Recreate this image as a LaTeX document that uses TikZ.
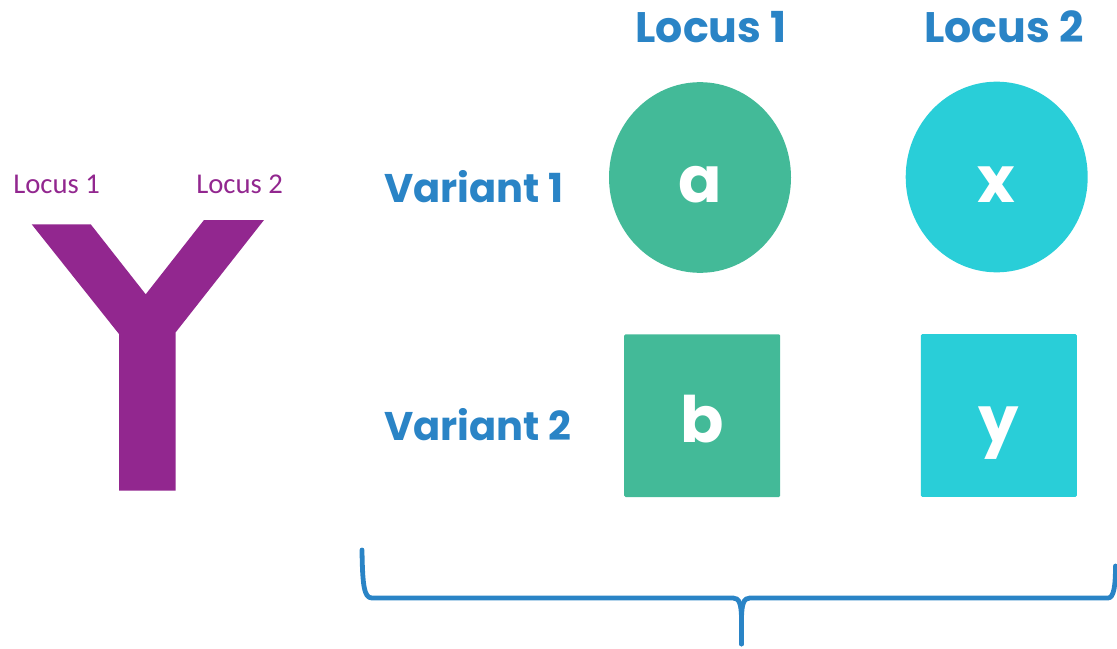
\documentclass[tikz,border=0pt]{standalone}
\usepackage{fontspec}
\setmainfont{Poppins}
\newfontfamily\calibrifont{Carlito}
\usetikzlibrary{shapes.geometric}
\definecolor{ttblue}{HTML}{2A84C6}
\definecolor{ttgreen}{HTML}{43BA98}
\definecolor{ttcyan}{HTML}{29CED8}
\definecolor{ttpurple}{HTML}{92278F}

\begin{document}
\begin{tikzpicture}[x=0.75pt,y=-0.75pt,
  heading/.style={font=\fontsize{32}{38}\selectfont\bfseries, text=ttblue, inner sep=0pt, anchor=base},
  rowlabel/.style={font=\fontsize{30}{36}\selectfont\bfseries, text=ttblue, inner sep=0pt, anchor=base west},
  armlabel/.style={font=\calibrifont\fontsize{21.5}{26}\selectfont, text=ttpurple, inner sep=0pt, anchor=base west},
  allele/.style={font=\fontsize{48}{58}\selectfont\bfseries, text=white, inner sep=0pt, text height=38pt, text depth=0pt},
  circ/.style={allele, ellipse, minimum width=136.5pt, minimum height=143pt},
  sq/.style={allele, rectangle, rounded corners=1pt, minimum width=117pt, minimum height=122pt, text height=40pt},
  brace/.style={draw=ttblue, line width=3.6pt, line cap=round, line join=round},
]
\useasboundingbox (0,0) rectangle (1117,649);

% chromosome
\fill[ttpurple] (31.7,224.3) -- (90.7,224.3) -- (145.7,294.3) -- (204,220) -- (264,220)
  -- (175.7,332.3) -- (175.7,490.7) -- (119,490.7) -- (119,334) -- cycle;
\node[armlabel] (arm1) at (13,193.3) {Locus 1};
\node[armlabel] (arm2) at (196,193.3) {Locus 2};

% column and row headings
\node[heading] (loc1) at (711,43) {Locus 1};
\node[heading] (loc2) at (1004,43) {Locus 2};
\node[rowlabel] (var1) at (384,203) {Variant 1};
\node[rowlabel] (var2) at (384,440) {Variant 2};

% alleles
\node[circ, fill=ttgreen] (a) at (700,177.5) {a};
\node[circ, fill=ttcyan] (x) at (996.7,177) {x};
\node[sq, fill=ttgreen] (b) at (702.2,415.7) {b};
\node[sq, fill=ttcyan] (y) at (998.8,415.5) {y};

% brace under the table
\coordinate (brL) at (362,550);
\coordinate (brT) at (741.5,644);
\coordinate (brR) at (1115.5,566);
\path[brace] (brL) .. controls (362.5,585) and (364,598) .. (372,598) -- (733,598)
  .. controls (739,598) and (741.5,603) .. (741.5,620) -- (brT);
\path[brace] (brT) -- (741.5,620) .. controls (741.5,603) and (744,598) .. (750,598)
  -- (1108,598) .. controls (1114,598) and (1115.5,585) .. (brR);
\end{tikzpicture}
\end{document}
